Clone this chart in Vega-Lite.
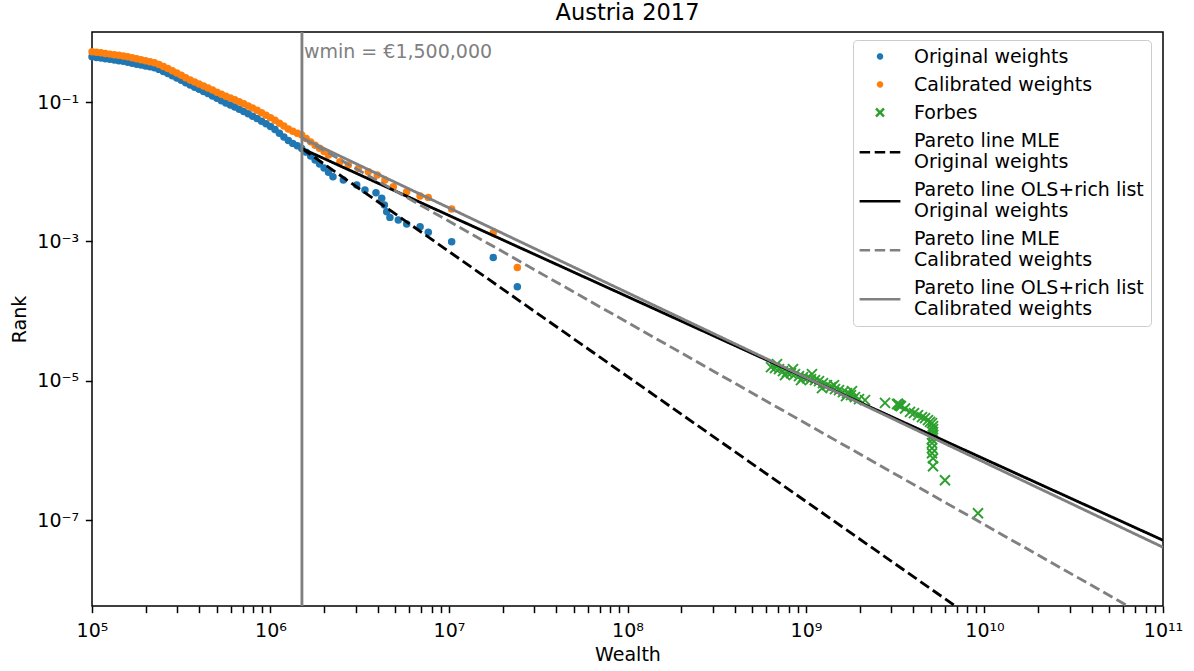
{
  "$schema": "https://vega.github.io/schema/vega-lite/v6.json",
  "width": 1071,
  "height": 574,
  "autosize": {"type": "none"},
  "padding": {"left": 92, "top": 32, "right": 31, "bottom": 65},
  "background": "white",
  "title": {"text": "Austria 2017", "font": "DejaVu Sans", "fontSize": 22.5, "fontWeight": "normal", "color": "black", "anchor": "middle", "offset": 6},
  "config": {
    "font": "DejaVu Sans",
    "view": {"stroke": "black", "strokeWidth": 1.5},
    "style": {"guide-label": {"lineHeight": 21}},
    "axis": {"grid": false, "domain": false, "labelFont": "DejaVu Sans", "labelFontSize": 19, "labelColor": "black", "titleFont": "DejaVu Sans", "titleFontSize": 19, "titleFontWeight": "normal", "titleColor": "black", "tickColor": "black", "tickWidth": 1.5, "tickSize": 6.65, "labelPadding": 6.65, "titlePadding": 7.6, "labelFlush": false, "labelOverlap": false, "labelBound": false}
  },
  "datasets": {
    "orig": [
      {"series":"Original weights","wealth":100000,"rank":0.4467},
      {"series":"Original weights","wealth":105930,"rank":0.4365},
      {"series":"Original weights","wealth":112200,"rank":0.4276},
      {"series":"Original weights","wealth":118850,"rank":0.4178},
      {"series":"Original weights","wealth":125890,"rank":0.4093},
      {"series":"Original weights","wealth":133350,"rank":0.3999},
      {"series":"Original weights","wealth":141250,"rank":0.3908},
      {"series":"Original weights","wealth":149620,"rank":0.3828},
      {"series":"Original weights","wealth":158490,"rank":0.3715},
      {"series":"Original weights","wealth":167880,"rank":0.3606},
      {"series":"Original weights","wealth":177830,"rank":0.3491},
      {"series":"Original weights","wealth":188360,"rank":0.3388},
      {"series":"Original weights","wealth":199530,"rank":0.3289},
      {"series":"Original weights","wealth":211350,"rank":0.3192},
      {"series":"Original weights","wealth":223870,"rank":0.3090},
      {"series":"Original weights","wealth":237140,"rank":0.2938},
      {"series":"Original weights","wealth":251190,"rank":0.2742},
      {"series":"Original weights","wealth":266070,"rank":0.2559},
      {"series":"Original weights","wealth":281840,"rank":0.2388},
      {"series":"Original weights","wealth":298540,"rank":0.2208},
      {"series":"Original weights","wealth":316230,"rank":0.2046},
      {"series":"Original weights","wealth":334970,"rank":0.1892},
      {"series":"Original weights","wealth":354810,"rank":0.1750},
      {"series":"Original weights","wealth":375840,"rank":0.1633},
      {"series":"Original weights","wealth":398110,"rank":0.1521},
      {"series":"Original weights","wealth":421700,"rank":0.1419},
      {"series":"Original weights","wealth":446680,"rank":0.1321},
      {"series":"Original weights","wealth":473150,"rank":0.1222},
      {"series":"Original weights","wealth":501190,"rank":0.1130},
      {"series":"Original weights","wealth":530880,"rank":0.1045},
      {"series":"Original weights","wealth":562340,"rank":0.0970},
      {"series":"Original weights","wealth":595660,"rank":0.0906},
      {"series":"Original weights","wealth":630960,"rank":0.0845},
      {"series":"Original weights","wealth":668340,"rank":0.0789},
      {"series":"Original weights","wealth":707950,"rank":0.0731},
      {"series":"Original weights","wealth":749890,"rank":0.0676},
      {"series":"Original weights","wealth":794330,"rank":0.0627},
      {"series":"Original weights","wealth":841400,"rank":0.0579},
      {"series":"Original weights","wealth":891250,"rank":0.0531},
      {"series":"Original weights","wealth":944060,"rank":0.0486},
      {"series":"Original weights","wealth":1000000,"rank":0.0445},
      {"series":"Original weights","wealth":1059300,"rank":0.0402},
      {"series":"Original weights","wealth":1122000,"rank":0.0356},
      {"series":"Original weights","wealth":1188500,"rank":0.0316},
      {"series":"Original weights","wealth":1258900,"rank":0.0281},
      {"series":"Original weights","wealth":1333500,"rank":0.0255},
      {"series":"Original weights","wealth":1412500,"rank":0.0235},
      {"series":"Original weights","wealth":1496200,"rank":0.0216},
      {"series":"Original weights","wealth":1584900,"rank":0.0191},
      {"series":"Original weights","wealth":1678800,"rank":0.0168},
      {"series":"Original weights","wealth":1778300,"rank":0.0147},
      {"series":"Original weights","wealth":1883600,"rank":0.0129},
      {"series":"Original weights","wealth":1995300,"rank":0.0113},
      {"series":"Original weights","wealth":2113500,"rank":0.0098},
      {"series":"Original weights","wealth":2238700,"rank":0.0085},
      {"series":"Original weights","wealth":2559000,"rank":0.007586},
      {"series":"Original weights","wealth":3041000,"rank":0.006442},
      {"series":"Original weights","wealth":3381000,"rank":0.005458},
      {"series":"Original weights","wealth":3899000,"rank":0.004989},
      {"series":"Original weights","wealth":4198000,"rank":0.004150},
      {"series":"Original weights","wealth":4345000,"rank":0.003327},
      {"series":"Original weights","wealth":4477000,"rank":0.002661},
      {"series":"Original weights","wealth":4667000,"rank":0.002213},
      {"series":"Original weights","wealth":5200000,"rank":0.002023},
      {"series":"Original weights","wealth":5794000,"rank":0.001774},
      {"series":"Original weights","wealth":6887000,"rank":0.001622},
      {"series":"Original weights","wealth":7656000,"rank":0.001349},
      {"series":"Original weights","wealth":10350000,"rank":0.0009886},
      {"series":"Original weights","wealth":17700000,"rank":0.0005902},
      {"series":"Original weights","wealth":24150000,"rank":0.0002234}
    ],
    "calib": [
      {"series":"Calibrated weights","wealth":100000,"rank":0.5272},
      {"series":"Calibrated weights","wealth":105930,"rank":0.5164},
      {"series":"Calibrated weights","wealth":112200,"rank":0.5070},
      {"series":"Calibrated weights","wealth":118850,"rank":0.4966},
      {"series":"Calibrated weights","wealth":125890,"rank":0.4864},
      {"series":"Calibrated weights","wealth":133350,"rank":0.4775},
      {"series":"Calibrated weights","wealth":141250,"rank":0.4677},
      {"series":"Calibrated weights","wealth":149620,"rank":0.4581},
      {"series":"Calibrated weights","wealth":158490,"rank":0.4446},
      {"series":"Calibrated weights","wealth":167880,"rank":0.4305},
      {"series":"Calibrated weights","wealth":177830,"rank":0.4159},
      {"series":"Calibrated weights","wealth":188360,"rank":0.4027},
      {"series":"Calibrated weights","wealth":199530,"rank":0.3899},
      {"series":"Calibrated weights","wealth":211350,"rank":0.3767},
      {"series":"Calibrated weights","wealth":223870,"rank":0.3648},
      {"series":"Calibrated weights","wealth":237140,"rank":0.3459},
      {"series":"Calibrated weights","wealth":251190,"rank":0.3236},
      {"series":"Calibrated weights","wealth":266070,"rank":0.3020},
      {"series":"Calibrated weights","wealth":281840,"rank":0.2818},
      {"series":"Calibrated weights","wealth":298540,"rank":0.2606},
      {"series":"Calibrated weights","wealth":316230,"rank":0.2415},
      {"series":"Calibrated weights","wealth":334970,"rank":0.2234},
      {"series":"Calibrated weights","wealth":354810,"rank":0.2065},
      {"series":"Calibrated weights","wealth":375840,"rank":0.1932},
      {"series":"Calibrated weights","wealth":398110,"rank":0.1811},
      {"series":"Calibrated weights","wealth":421700,"rank":0.1698},
      {"series":"Calibrated weights","wealth":446680,"rank":0.1589},
      {"series":"Calibrated weights","wealth":473150,"rank":0.1483},
      {"series":"Calibrated weights","wealth":501190,"rank":0.1384},
      {"series":"Calibrated weights","wealth":530880,"rank":0.1291},
      {"series":"Calibrated weights","wealth":562340,"rank":0.1211},
      {"series":"Calibrated weights","wealth":595660,"rank":0.1140},
      {"series":"Calibrated weights","wealth":630960,"rank":0.1074},
      {"series":"Calibrated weights","wealth":668340,"rank":0.1009},
      {"series":"Calibrated weights","wealth":707950,"rank":0.0942},
      {"series":"Calibrated weights","wealth":749890,"rank":0.0879},
      {"series":"Calibrated weights","wealth":794330,"rank":0.0818},
      {"series":"Calibrated weights","wealth":841400,"rank":0.0762},
      {"series":"Calibrated weights","wealth":891250,"rank":0.0703},
      {"series":"Calibrated weights","wealth":944060,"rank":0.0647},
      {"series":"Calibrated weights","wealth":1000000,"rank":0.0597},
      {"series":"Calibrated weights","wealth":1059300,"rank":0.0547},
      {"series":"Calibrated weights","wealth":1122000,"rank":0.0497},
      {"series":"Calibrated weights","wealth":1188500,"rank":0.0452},
      {"series":"Calibrated weights","wealth":1258900,"rank":0.0410},
      {"series":"Calibrated weights","wealth":1333500,"rank":0.0381},
      {"series":"Calibrated weights","wealth":1412500,"rank":0.0357},
      {"series":"Calibrated weights","wealth":1496200,"rank":0.0336},
      {"series":"Calibrated weights","wealth":1584900,"rank":0.0300},
      {"series":"Calibrated weights","wealth":1678800,"rank":0.0268},
      {"series":"Calibrated weights","wealth":1778300,"rank":0.0240},
      {"series":"Calibrated weights","wealth":1883600,"rank":0.0217},
      {"series":"Calibrated weights","wealth":1995300,"rank":0.0195},
      {"series":"Calibrated weights","wealth":2113500,"rank":0.0174},
      {"series":"Calibrated weights","wealth":2449000,"rank":0.01390},
      {"series":"Calibrated weights","wealth":2729000,"rank":0.01247},
      {"series":"Calibrated weights","wealth":3105000,"rank":0.01117},
      {"series":"Calibrated weights","wealth":3532000,"rank":0.01000},
      {"series":"Calibrated weights","wealth":3963000,"rank":0.008954},
      {"series":"Calibrated weights","wealth":4375000,"rank":0.007586},
      {"series":"Calibrated weights","wealth":4875000,"rank":0.006081},
      {"series":"Calibrated weights","wealth":5794000,"rank":0.005152},
      {"series":"Calibrated weights","wealth":6887000,"rank":0.004477},
      {"series":"Calibrated weights","wealth":7656000,"rank":0.004285},
      {"series":"Calibrated weights","wealth":10350000,"rank":0.002911},
      {"series":"Calibrated weights","wealth":17700000,"rank":0.001330},
      {"series":"Calibrated weights","wealth":24150000,"rank":0.0004236}
    ],
    "forbes": [
      {"series":"Forbes","wealth":636700000,"rank":1.572e-5},
      {"series":"Forbes","wealth":670500000,"rank":1.521e-5},
      {"series":"Forbes","wealth":688000000,"rank":1.735e-5},
      {"series":"Forbes","wealth":706000000,"rank":1.471e-5},
      {"series":"Forbes","wealth":743200000,"rank":1.377e-5},
      {"series":"Forbes","wealth":762700000,"rank":1.206e-5},
      {"series":"Forbes","wealth":782700000,"rank":1.332e-5},
      {"series":"Forbes","wealth":824100000,"rank":1.289e-5},
      {"series":"Forbes","wealth":845500000,"rank":1.471e-5},
      {"series":"Forbes","wealth":867700000,"rank":1.247e-5},
      {"series":"Forbes","wealth":913700000,"rank":1.167e-5},
      {"series":"Forbes","wealth":937600000,"rank":1.023e-5},
      {"series":"Forbes","wealth":962100000,"rank":1.129e-5},
      {"series":"Forbes","wealth":1013000000,"rank":1.093e-5},
      {"series":"Forbes","wealth":1066700000,"rank":1.057e-5},
      {"series":"Forbes","wealth":1080000000,"rank":1.247e-5},
      {"series":"Forbes","wealth":1123100000,"rank":1.023e-5},
      {"series":"Forbes","wealth":1182600000,"rank":9.895e-6},
      {"series":"Forbes","wealth":1229000000,"rank":7.85e-6},
      {"series":"Forbes","wealth":1245300000,"rank":9.262e-6},
      {"series":"Forbes","wealth":1311100000,"rank":8.670e-6},
      {"series":"Forbes","wealth":1380600000,"rank":8.115e-6},
      {"series":"Forbes","wealth":1435000000,"rank":8.67e-6},
      {"series":"Forbes","wealth":1453800000,"rank":7.596e-6},
      {"series":"Forbes","wealth":1530700000,"rank":7.349e-6},
      {"series":"Forbes","wealth":1611700000,"rank":6.879e-6},
      {"series":"Forbes","wealth":1675000000,"rank":6.03e-6},
      {"series":"Forbes","wealth":1697100000,"rank":6.656e-6},
      {"series":"Forbes","wealth":1786900000,"rank":6.230e-6},
      {"series":"Forbes","wealth":1810000000,"rank":7.11e-6},
      {"series":"Forbes","wealth":1881500000,"rank":5.832e-6},
      {"series":"Forbes","wealth":1981100000,"rank":5.458e-6},
      {"series":"Forbes","wealth":2140400000,"rank":5.281e-6},
      {"series":"Forbes","wealth":2770700000,"rank":4.830e-6},
      {"series":"Forbes","wealth":3234500000,"rank":4.627e-6},
      {"series":"Forbes","wealth":3280000000,"rank":4.700e-6},
      {"series":"Forbes","wealth":3318900000,"rank":4.477e-6},
      {"series":"Forbes","wealth":3360000000,"rank":4.400e-6},
      {"series":"Forbes","wealth":3405500000,"rank":4.331e-6},
      {"series":"Forbes","wealth":3585800000,"rank":4.013e-6},
      {"series":"Forbes","wealth":3824400000,"rank":3.587e-6},
      {"series":"Forbes","wealth":4027200000,"rank":3.436e-6},
      {"series":"Forbes","wealth":4241800000,"rank":3.217e-6},
      {"series":"Forbes","wealth":4466000000,"rank":3.011e-6},
      {"series":"Forbes","wealth":4641900000,"rank":2.913e-6},
      {"series":"Forbes","wealth":4825000000,"rank":2.726e-6},
      {"series":"Forbes","wealth":4951000000,"rank":2.578e-6},
      {"series":"Forbes","wealth":5080200000,"rank":2.470e-6},
      {"series":"Forbes","wealth":5146200000,"rank":2.236e-6},
      {"series":"Forbes","wealth":5146200000,"rank":2.025e-6},
      {"series":"Forbes","wealth":5146200000,"rank":1.834e-6},
      {"series":"Forbes","wealth":5146200000,"rank":1.661e-6},
      {"series":"Forbes","wealth":5080200000,"rank":1.455e-6},
      {"series":"Forbes","wealth":5080200000,"rank":1.275e-6},
      {"series":"Forbes","wealth":5080200000,"rank":1.080e-6},
      {"series":"Forbes","wealth":5080200000,"rank":9.162e-7},
      {"series":"Forbes","wealth":5146200000,"rank":7.767e-7},
      {"series":"Forbes","wealth":5146200000,"rank":5.962e-7},
      {"series":"Forbes","wealth":6006300000,"rank":3.753e-7},
      {"series":"Forbes","wealth":9196000000,"rank":1.261e-7}
    ],
    "lines": [
      {"series":"Pareto line MLE|Original weights","wealth":1500000,"rank":0.0215},
      {"series":"Pareto line MLE|Original weights","wealth":100000000000,"rank":4.83e-11},
      {"series":"Pareto line OLS+rich list|Original weights","wealth":1500000,"rank":0.0215},
      {"series":"Pareto line OLS+rich list|Original weights","wealth":100000000000,"rank":5.164e-8},
      {"series":"Pareto line MLE|Calibrated weights","wealth":1500000,"rank":0.0305},
      {"series":"Pareto line MLE|Calibrated weights","wealth":100000000000,"rank":3.06e-9},
      {"series":"Pareto line OLS+rich list|Calibrated weights","wealth":1500000,"rank":0.0305},
      {"series":"Pareto line OLS+rich list|Calibrated weights","wealth":100000000000,"rank":4.10e-8}
    ]
  },
  "layer": [
    {
      "data": {"name": "orig"},
      "mark": {"type": "point", "filled": true, "size": 56, "opacity": 1, "strokeWidth": 0},
      "encoding": {
        "x": {"field": "wealth", "type": "quantitative",
          "scale": {"type": "log", "domain": [100000, 100000000000], "nice": false},
          "axis": {"title": "Wealth", "labelPadding": 8.65, "titlePadding": 5.6,
            "values": [100000,200000,300000,400000,500000,600000,700000,800000,900000,1000000,2000000,3000000,4000000,5000000,6000000,7000000,8000000,9000000,10000000,20000000,30000000,40000000,50000000,60000000,70000000,80000000,90000000,100000000,200000000,300000000,400000000,500000000,600000000,700000000,800000000,900000000,1000000000,2000000000,3000000000,4000000000,5000000000,6000000000,7000000000,8000000000,9000000000,10000000000,20000000000,30000000000,40000000000,50000000000,60000000000,70000000000,80000000000,90000000000,100000000000],
            "labelExpr": "datum.value == 100000 ? '10⁵' : datum.value == 1000000 ? '10⁶' : datum.value == 10000000 ? '10⁷' : datum.value == 100000000 ? '10⁸' : datum.value == 1000000000 ? '10⁹' : datum.value == 10000000000 ? '10¹⁰' : datum.value == 100000000000 ? '10¹¹' : ''",
            "encode": {"ticks": {"update": {"y2": {"signal": "indexof([100000,1000000,10000000,100000000,1000000000,10000000000,100000000000], datum.value) >= 0 ? 6.65 : 3.8"}}}}
          }},
        "y": {"field": "rank", "type": "quantitative",
          "scale": {"type": "log", "domain": [5.89e-9, 1.01], "nice": false},
          "axis": {"title": "Rank", "values": [0.1, 0.001, 0.00001, 0.0000001],
            "labelExpr": "datum.value > 0.01 ? '10⁻¹' : datum.value > 0.0001 ? '10⁻³' : datum.value > 0.000001 ? '10⁻⁵' : '10⁻⁷'"}},
        "color": {"field": "series", "type": "nominal",
          "scale": {"domain": ["Original weights", "Calibrated weights", "Forbes", "Pareto line MLE|Original weights", "Pareto line OLS+rich list|Original weights", "Pareto line MLE|Calibrated weights", "Pareto line OLS+rich list|Calibrated weights"],
                    "range": ["#1f77b4", "#ff7f0e", "#2ca02c", "black", "black", "#808080", "#808080"]},
          "legend": {"title": null, "orient": "none", "legendX": 761, "legendY": 8, "padding": 7,
            "fillColor": "rgba(255,255,255,0.8)", "strokeColor": "#cccccc", "cornerRadius": 4,
            "labelFont": "DejaVu Sans", "labelFontSize": 19, "labelColor": "black", "labelOffset": 24.5, "labelLimit": 400,
            "rowPadding": 8, "symbolSize": 16, "symbolOffset": 10.5, "symbolStrokeWidth": 2.5, "symbolOpacity": 1,
            "labelExpr": "split(datum.label, '|')"}},
        "shape": {"field": "series", "type": "nominal",
          "scale": {"domain": ["Original weights", "Calibrated weights", "Forbes", "Pareto line MLE|Original weights", "Pareto line OLS+rich list|Original weights", "Pareto line MLE|Calibrated weights", "Pareto line OLS+rich list|Calibrated weights"],
                    "range": ["circle", "circle", "M-2,-2L2,2M-2,2L2,-2", "M-10.2,5.9L10.2,5.9", "M-10.2,5.9L10.2,5.9", "M-10.2,5.9L10.2,5.9", "M-10.2,5.9L10.2,5.9"]}}
      }
    },
    {
      "data": {"name": "calib"},
      "mark": {"type": "point", "filled": true, "size": 56, "opacity": 1, "strokeWidth": 0},
      "encoding": {
        "x": {"field": "wealth", "type": "quantitative"},
        "y": {"field": "rank", "type": "quantitative"},
        "color": {"field": "series", "type": "nominal"},
        "shape": {"field": "series", "type": "nominal"}
      }
    },
    {
      "data": {"name": "forbes"},
      "mark": {"type": "point", "filled": false, "size": 25, "opacity": 1, "strokeWidth": 1.9},
      "encoding": {
        "x": {"field": "wealth", "type": "quantitative"},
        "y": {"field": "rank", "type": "quantitative"},
        "color": {"field": "series", "type": "nominal"},
        "shape": {"field": "series", "type": "nominal"}
      }
    },
    {
      "data": {"name": "lines"},
      "transform": [{"filter": "datum.series == 'Pareto line MLE|Original weights'"}],
      "mark": {"type": "line", "strokeWidth": 2.85, "clip": true},
      "encoding": {
        "x": {"field": "wealth", "type": "quantitative"},
        "y": {"field": "rank", "type": "quantitative"},
        "color": {"field": "series", "type": "nominal"},
        "strokeDash": {"field": "series", "type": "nominal",
          "scale": {"domain": ["Original weights", "Calibrated weights", "Forbes", "Pareto line MLE|Original weights", "Pareto line OLS+rich list|Original weights", "Pareto line MLE|Calibrated weights", "Pareto line OLS+rich list|Calibrated weights"],
                    "range": [[1, 0], [1, 0], [1, 0], [10.5, 4.6], [1, 0], [10.5, 4.6], [1, 0]]}}
      }
    },
    {
      "data": {"name": "lines"},
      "transform": [{"filter": "datum.series == 'Pareto line OLS+rich list|Original weights'"}],
      "mark": {"type": "line", "strokeWidth": 2.85, "clip": true},
      "encoding": {
        "x": {"field": "wealth", "type": "quantitative"},
        "y": {"field": "rank", "type": "quantitative"},
        "color": {"field": "series", "type": "nominal"},
        "strokeDash": {"field": "series", "type": "nominal"}
      }
    },
    {
      "data": {"name": "lines"},
      "transform": [{"filter": "datum.series == 'Pareto line MLE|Calibrated weights'"}],
      "mark": {"type": "line", "strokeWidth": 2.85, "clip": true},
      "encoding": {
        "x": {"field": "wealth", "type": "quantitative"},
        "y": {"field": "rank", "type": "quantitative"},
        "color": {"field": "series", "type": "nominal"},
        "strokeDash": {"field": "series", "type": "nominal"}
      }
    },
    {
      "data": {"name": "lines"},
      "transform": [{"filter": "datum.series == 'Pareto line OLS+rich list|Calibrated weights'"}],
      "mark": {"type": "line", "strokeWidth": 2.85, "clip": true},
      "encoding": {
        "x": {"field": "wealth", "type": "quantitative"},
        "y": {"field": "rank", "type": "quantitative"},
        "color": {"field": "series", "type": "nominal"},
        "strokeDash": {"field": "series", "type": "nominal"}
      }
    },
    {
      "data": {"values": [{"wealth": 1500000}]},
      "mark": {"type": "rule", "color": "#808080", "strokeWidth": 2.85},
      "encoding": {
        "x": {"field": "wealth", "type": "quantitative"}
      }
    },
    {
      "data": {"values": [{"wealth": 1500000, "label": "wmin = €1,500,000"}]},
      "mark": {"type": "text", "align": "left", "baseline": "alphabetic", "dx": 2, "font": "DejaVu Sans", "fontSize": 19, "color": "#808080"},
      "encoding": {
        "x": {"field": "wealth", "type": "quantitative"},
        "y": {"datum": 0.428, "type": "quantitative"},
        "text": {"field": "label", "type": "nominal"}
      }
    }
  ]
}
